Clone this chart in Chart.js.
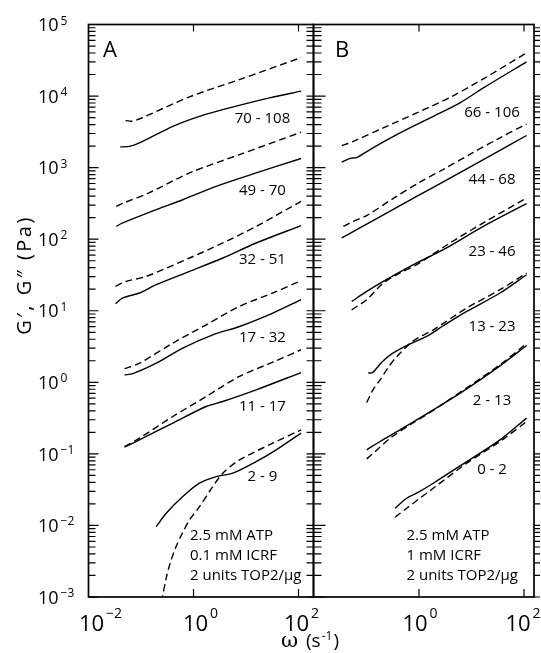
<!DOCTYPE html>
<html>
<head>
<meta charset="utf-8">
<script src="https://cdn.jsdelivr.net/npm/chart.js@4.4.1/dist/chart.umd.min.js"></script>
<style>
  html, body { margin: 0; padding: 0; background: #fff; }
  #wrap { position: relative; width: 541px; height: 653px; }
  #wrap canvas { position: absolute; left: 0; top: 0; }
</style>
</head>
<body>
<div id="wrap">
  <canvas id="chartA" width="541" height="653"></canvas>
  <canvas id="chartB" width="541" height="653"></canvas>
</div>
<script>
// every curve is a list of [omega (1/s), modulus (Pa)]
// solid = G' (storage), dashed = G'' (loss)

// panel A: 2.5 mM ATP, 0.1 mM ICRF
const labelsA = ['70 - 108', '49 - 70', '32 - 51', '17 - 32', '11 - 17', '2 - 9'];
const gpA_70 = [[0.0402,1950],[0.0604,1980],[0.108,2330],[0.404,3780],[1.30,5210],[4.85,6840],[28.1,9440],[112,11700]];
const gppA_70 = [[0.0507,4540],[0.0689,4450],[0.107,5000],[0.84,9750],[7.52,17000],[112,34500]];
const gpA_49 = [[0.0337,151],[0.045,169],[0.195,259],[0.625,356],[2.70,548],[15.6,843],[112,1340]];
const gppA_49 = [[0.0337,288],[0.0485,324],[0.145,447],[0.84,843],[7.52,1520],[112,3120]];
const gpA_32 = [[0.0327,12.5],[0.045,15.1],[0.0935,17.7],[0.195,23.1],[0.84,35.5],[3.61,54.6],[15.6,88.5],[112,155]];
const gppA_32 = [[0.0327,21.9],[0.0522,25.7],[0.126,30.2],[0.84,54.6],[3.61,88.5],[15.6,151],[112,338]];
const gpA_17 = [[0.0485,1.27],[0.0698,1.32],[0.195,1.85],[0.625,3.01],[2.33,4.61],[7.52,6.03],[32.4,9.29],[112,14.3]];
const gppA_17 = [[0.0485,1.55],[0.0935,1.85],[0.404,3.53],[1.75,6.37],[7.52,11.5],[32.4,17.7],[112,26.3]];
const gpA_11 = [[0.0485,0.124],[0.0935,0.157],[0.404,0.269],[1.74,0.459],[3.61,0.540],[15.6,0.785],[112,1.37]];
const gppA_11 = [[0.0485,0.126],[0.0935,0.166],[0.404,0.333],[1.74,0.632],[7.52,1.21],[32.4,1.91],[112,2.85]];
const gpA_2 = [[0.195,0.00962],[0.302,0.0148],[0.625,0.0253],[1.30,0.0389],[2.70,0.0482],[5.61,0.0537],[15.6,0.0780],[37.6,0.114],[112,0.195]];
const gppA_2 = [[0.245,0.00085],[0.306,0.00191],[0.365,0.00309],[0.454,0.00484],[0.590,0.00736],[0.839,0.0119],[1.30,0.0183],[2.33,0.0349],[3.61,0.0537],[7.52,0.0824],[32.4,0.141],[112,0.217]];
const labelOmegaA = 20.6;
const labelGA = [4840, 476, 51.6, 4.19, 0.454, 0.0476];

// panel B: 2.5 mM ATP, 1 mM ICRF
const labelsB = ['66 - 106', '44 - 68', '23 - 46', '13 - 23', '2 - 13', '0 - 2'];
const gpB_66 = [[0.0337,1190],[0.0485,1350],[0.065,1380],[0.117,1790],[0.435,3050],[1.87,5210],[6.04,8040],[16.8,13000],[112,30100]];
const gppB_66 = [[0.0337,2030],[0.0561,2330],[0.209,3590],[0.904,5820],[3.89,9550],[16.8,17400],[112,40200]];
const gpB_44 = [[0.0337,104],[0.065,136],[0.156,194],[0.435,294],[1.87,531],[8.11,964],[34.9,1740],[112,2810]];
const gppB_44 = [[0.0363,151],[0.0562,178],[0.101,214],[0.324,372],[1.0,617],[3.16,977],[10,1580],[31.6,2510],[112,4070]];
const gpB_23 = [[0.0522,13.5],[0.101,18.6],[0.209,25.7],[0.904,46.5],[2.90,71.3],[16.8,151],[112,314]];
const gppB_23 = [[0.0522,10.3],[0.101,14.3],[0.209,24.4],[0.435,33.7],[0.904,44.0],[3.89,88.5],[16.8,169],[112,377]];
const gpB_13 = [[0.108,1.35],[0.131,1.37],[0.195,1.91],[0.302,2.50],[0.675,3.45],[1.40,4.38],[2.90,6.17],[8.11,9.77],[34.9,17.7],[112,31.8]];
const gppB_13 = [[0.101,0.522],[0.133,0.785],[0.181,1.08],[0.257,1.60],[0.376,2.28],[0.778,3.80],[1.87,5.42],[8.11,10.9],[34.9,19.7],[112,33.7]];
const gpB_2 = [[0.101,0.114],[0.181,0.149],[0.435,0.217],[1.87,0.412],[8.11,0.811],[34.9,1.70],[112,3.27]];
const gppB_2 = [[0.101,0.0851],[0.145,0.107],[0.281,0.165],[0.675,0.255],[1.87,0.405],[8.11,0.838],[34.9,1.76],[112,3.49]];
const gpB_0 = [[0.349,0.0174],[0.583,0.0240],[0.904,0.0282],[1.87,0.0389],[8.11,0.0780],[34.9,0.157],[112,0.316]];
const gppB_0 = [[0.349,0.0130],[0.583,0.0174],[1.04,0.0240],[1.87,0.0331],[8.11,0.0741],[34.9,0.149],[112,0.283]];
const labelOmegaB = 24.6;
const labelGB = [5880, 679, 66.8, 5.97, 0.551, 0.0597];

const FONT = '"Open Sans", "DejaVu Sans", sans-serif';

function curve(pts, dashed) {
  return {
    data: pts.map(p => ({ x: p[0], y: p[1] })),
    borderColor: '#000',
    borderWidth: 1.4,
    borderDash: dashed ? [7, 4] : [],
    pointRadius: 0,
    fill: false,
    tension: 0.3
  };
}

// "10" with an exponent; x is the centre or left edge of "10", y its baseline
function power(ctx, x, y, exp, size, supSize, rise, align) {
  ctx.textAlign = 'left';
  ctx.textBaseline = 'alphabetic';
  ctx.font = size + 'px ' + FONT;
  const w = ctx.measureText('10').width;
  const left = align === 'center' ? x - w / 2 : x;
  ctx.fillText('10', left, y);
  ctx.font = supSize + 'px ' + FONT;
  ctx.fillText(exp < 0 ? '\u2212' + (-exp) : String(exp), left + w + 2, y - rise);
}

// frame, inward ticks, tick labels and panel texts
const axisFrame = {
  id: 'axisFrame',
  afterDatasetsDraw(chart, args, o) {
    const { ctx, chartArea: a, scales: { x, y } } = chart;
    ctx.save();
    ctx.strokeStyle = '#000';
    ctx.fillStyle = '#000';

    ctx.lineWidth = 1.2;
    ctx.beginPath();
    for (let n = -3; n <= 4; n++) {
      for (let m = 1; m <= 9; m++) {
        const py = y.getPixelForValue(m * Math.pow(10, n));
        const major = m === 1;
        ctx.moveTo(a.left, py);
        ctx.lineTo(a.left + (major ? o.left[0] : o.left[1]), py);
        ctx.moveTo(a.right, py);
        ctx.lineTo(a.right + o.rightDir * (major ? o.right[0] : o.right[1]), py);
      }
    }
    o.xTicks.forEach(v => {
      const px = x.getPixelForValue(v);
      ctx.moveTo(px, a.top); ctx.lineTo(px, a.top + 7);
      ctx.moveTo(px, a.bottom); ctx.lineTo(px, a.bottom - 8);
    });
    ctx.stroke();

    ctx.lineWidth = 1.7;
    ctx.strokeRect(a.left, a.top, a.right - a.left, a.bottom - a.top);

    if (o.yLabels) {
      for (let n = -3; n <= 5; n++) {
        const py = y.getPixelForValue(Math.pow(10, n));
        power(ctx, 38, py + 6.7, n, 18, 12, 6.7, 'left');
      }
    }
    o.xLabels.forEach((v, i) => {
      const px = x.getPixelForValue(v) + o.xShift[i];
      power(ctx, px, 631, Math.round(Math.log10(v)), 22, 14, 13, 'center');
    });

    ctx.font = '22px ' + FONT;
    ctx.textAlign = 'left';
    ctx.textBaseline = 'alphabetic';
    ctx.fillText(o.letter, o.letterX, 57);

    ctx.font = '15px ' + FONT;
    o.notes.forEach((t, i) => ctx.fillText(t, o.notesX, 540 + i * 20));

    ctx.textAlign = 'center';
    ctx.textBaseline = 'middle';
    o.labels.forEach((t, i) => {
      ctx.fillText(t, x.getPixelForValue(o.labelX), y.getPixelForValue(o.labelY[i]));
    });

    if (o.titles) {
      // x title: omega (s^-1)
      ctx.textAlign = 'left';
      ctx.textBaseline = 'alphabetic';
      ctx.font = '21px "DejaVu Serif", serif';
      ctx.fillText('\u03c9', 281, 647);
      ctx.font = '19px ' + FONT;
      ctx.fillText('(s', 306, 647);
      const w = ctx.measureText('(s').width;
      ctx.font = '12px ' + FONT;
      ctx.fillText('-1', 306 + w + 1, 640);
      const w2 = ctx.measureText('-1').width;
      ctx.font = '19px ' + FONT;
      ctx.fillText(')', 306 + w + w2 + 2, 647);

      // y title, spread to the length it has in the figure
      ctx.save();
      ctx.translate(25, 275);
      ctx.rotate(-Math.PI / 2);
      ctx.textAlign = 'center';
      ctx.textBaseline = 'middle';
      ctx.font = '20px ' + FONT;
      ctx.letterSpacing = '2.5px';
      ctx.fillText('G\u2032, G\u2033 (Pa)', 0, 0);
      ctx.restore();
    }
    ctx.restore();
  }
};

function makeChart(id, datasets, pad, xRange, frameOpts) {
  return new Chart(document.getElementById(id).getContext('2d'), {
    type: 'line',
    data: { datasets: datasets },
    options: {
      responsive: false,
      animation: false,
      layout: { padding: pad },
      plugins: {
        legend: { display: false },
        tooltip: { enabled: false },
        axisFrame: frameOpts
      },
      scales: {
        x: { type: 'logarithmic', display: false, min: xRange[0], max: xRange[1] },
        y: { type: 'logarithmic', display: false, min: 1e-3, max: 1e5 }
      }
    },
    plugins: [axisFrame]
  });
}

const pairsA = [[gpA_70, gppA_70], [gpA_49, gppA_49], [gpA_32, gppA_32], [gpA_17, gppA_17], [gpA_11, gppA_11], [gpA_2, gppA_2]];
const pairsB = [[gpB_66, gppB_66], [gpB_44, gppB_44], [gpB_23, gppB_23], [gpB_13, gppB_13], [gpB_2, gppB_2], [gpB_0, gppB_0]];

makeChart('chartA',
  pairsA.flatMap(p => [curve(p[0], false), curve(p[1], true)]),
  { left: 88.5, right: 227.5, top: 24.5, bottom: 56 },
  [0.01, 193],
  {
    yLabels: true, titles: true,
    left: [10, 7], right: [7, 7], rightDir: -1,
    xTicks: [1, 100], xLabels: [0.01, 1, 100], xShift: [3, 2, -2],
    letter: 'A', letterX: 103,
    notes: ['2.5 mM ATP', '0.1 mM ICRF', '2 units TOP2/\u03bcg'], notesX: 190,
    labels: labelsA, labelX: labelOmegaA, labelY: labelGA
  });

makeChart('chartB',
  pairsB.flatMap(p => [curve(p[0], false), curve(p[1], true)]),
  { left: 313.5, right: 7, top: 24.5, bottom: 56 },
  [0.00978, 155],
  {
    yLabels: false, titles: false,
    left: [12, 8], right: [6, 6], rightDir: 1,
    xTicks: [1, 100], xLabels: [1, 100], xShift: [-4, -6],
    letter: 'B', letterX: 335,
    notes: ['2.5 mM ATP', '1 mM ICRF', '2 units TOP2/\u03bcg'], notesX: 406.5,
    labels: labelsB, labelX: labelOmegaB, labelY: labelGB
  });
</script>
</body>
</html>
